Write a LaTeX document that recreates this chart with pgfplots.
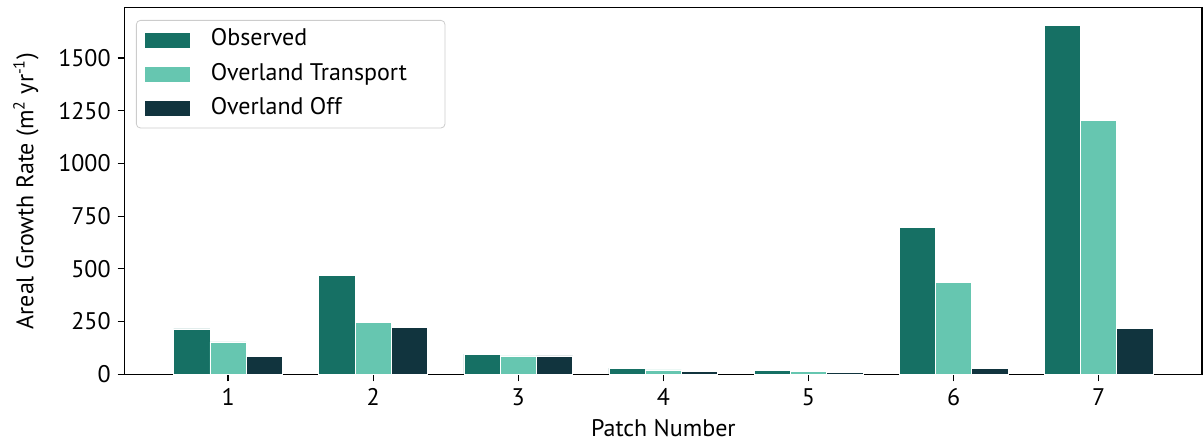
\documentclass[border=0pt]{standalone}
\usepackage{pgfplots}
\pgfplotsset{compat=1.18}
\usepackage{fontspec}
\setmainfont{PT Sans}
\definecolor{cobs}{HTML}{167064}
\definecolor{ctra}{HTML}{66C6B0}
\definecolor{coff}{HTML}{11343E}
\begin{document}
\begin{tikzpicture}
\begin{axis}[
  scale only axis,
  width=538.7pt, height=183.3pt,
  font=\fontsize{12}{14}\selectfont,
  xmin=0.2875, xmax=7.7125,
  ymin=0, ymax=1739,
  xtick={1,2,3,4,5,6,7},
  ytick={0,250,500,750,1000,1250,1500},
  tick align=outside,
  xtick pos=bottom, ytick pos=left,
  major tick length=3.5pt,
  tick style={black, line width=0.6pt},
  axis line style={line width=0.7pt},
  /pgf/number format/assume math mode=true,
  /pgf/number format/1000 sep={},
  xlabel={Patch Number},
  ylabel={Areal Growth Rate (m\textsuperscript{2} yr\textsuperscript{-1})},
  ylabel style={yshift=3pt},
  ybar,
  bar width=0.25,
  legend image code/.code={\fill[#1, sharp corners] (0pt,-4pt) rectangle (23pt,4pt); \path (32pt,0pt);},
  legend cell align=left,
  legend style={at={(rel axis cs:0,1)}, anchor=north west, xshift=5.65pt, yshift=-6.15pt,
    draw=black!20, rounded corners=2pt, inner xsep=4pt, inner ysep=3.3pt,
    row sep=4.1pt,
    nodes={inner sep=1pt, text height=8.5pt, text depth=2.5pt}},
]
\addplot[fill=cobs, draw=white, line width=0.3pt, bar shift=-0.25] coordinates {
 (1,215) (2,470) (3,96) (4,29) (5,17) (6,698) (7,1656)};
\addlegendentry{Observed}
\addplot[fill=ctra, draw=white, line width=0.3pt, bar shift=0] coordinates {
 (1,154) (2,246) (3,87) (4,21) (5,12) (6,434) (7,1206)};
\addlegendentry{Overland Transport\rule{14pt}{0pt}}
\addplot[fill=coff, draw=white, line width=0.3pt, bar shift=0.25] coordinates {
 (1,84) (2,222) (3,87) (4,13) (5,10) (6,29) (7,216)};
\addlegendentry{Overland Off}
\coordinate (bl) at (rel axis cs:0,0);
\coordinate (tr) at (rel axis cs:1,1);
\end{axis}
\pgfresetboundingbox
\path ([shift={(-62.35pt,-36.85pt)}]bl) rectangle ([shift={(0.5pt,3.85pt)}]tr);
\end{tikzpicture}
\end{document}
